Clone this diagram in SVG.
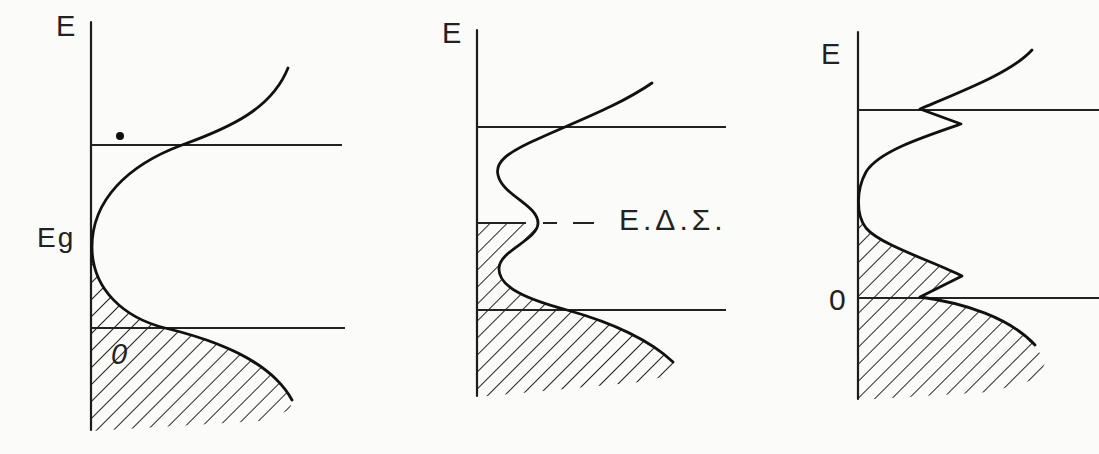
<svg xmlns="http://www.w3.org/2000/svg" width="1099" height="454" viewBox="0 0 1099 454">
<style>
.ax{stroke:#1c1c1c;stroke-width:2.2;fill:none;stroke-linecap:round}
.ln{stroke:#222;stroke-width:2;fill:none}
.cv{stroke:#111;stroke-width:2.8;fill:none;stroke-linejoin:round;stroke-linecap:round}
.tx{font-family:"Liberation Sans","DejaVu Sans",sans-serif;fill:#222}
.ht{fill:url(#hatch);stroke:none}
</style>
<defs>
<pattern id="hatch" patternUnits="userSpaceOnUse" width="12" height="12" patternTransform="rotate(45)">
<line x1="0" y1="0" x2="0" y2="12" stroke="#1a1a1a" stroke-width="1.9"/>
</pattern>
</defs>
<rect width="1099" height="454" fill="#fbfbf9"/>

<g id="panel1">
<path class="ht" d="M91,247 L92,247 C92,290 125,318 165,328 C215,340 270,360 292,400 L290,410 L260,421 L91,431 Z"/>
<line class="ax" x1="91" y1="22" x2="91" y2="430"/>
<line class="ln" x1="91" y1="145" x2="342" y2="145"/>
<line class="ln" x1="91" y1="328" x2="345" y2="328"/>
<path class="cv" d="M288,68 C272,108 232,127 182,145 C128,165 92,200 92,247 C92,290 125,318 165,328 C215,340 270,360 292,400"/>
<circle cx="120" cy="136" r="4" fill="#111"/>
<text class="tx" x="56" y="36" font-size="29">E</text>
<text class="tx" x="37" y="247" font-size="28" letter-spacing="2">Eg</text>
<text class="tx" x="111" y="364" font-size="29" font-style="italic">0</text>
</g>

<g id="panel2">
<path class="ht" d="M477,223 L538,223 C538,240 500,250 499,268 C498,288 530,300 567,310 C610,322 650,340 673,362 L676,374 L640,382 L477,397 Z"/>
<line class="ax" x1="477" y1="30" x2="477" y2="396"/>
<line class="ln" x1="477" y1="127" x2="726" y2="127"/>
<line class="ln" x1="477" y1="310" x2="726" y2="310"/>
<line class="ln" x1="477" y1="223" x2="526" y2="223"/>
<line class="ln" x1="543" y1="223" x2="557" y2="223"/>
<line class="ln" x1="573" y1="223" x2="594" y2="223"/>
<path class="cv" d="M652,83 C620,105 580,120 540,138 C505,153 495,163 498,175 C502,195 538,205 538,223 C538,240 500,250 499,268 C498,288 530,300 567,310 C610,322 650,340 673,362"/>
<text class="tx" x="442" y="43" font-size="29">E</text>
<text class="tx" x="619" y="230" font-size="30" letter-spacing="4">Ε.Δ.Σ.</text>
</g>

<g id="panel3">
<path class="ht" d="M858,190 L859,190 C857,205 858,220 866,228 C880,245 935,262 962,276 L920,297 C965,303 1010,318 1035,345 L1045,362 L1040,378 L990,392 L858,400 Z"/>
<line class="ax" x1="858" y1="32" x2="858" y2="399"/>
<line class="ln" x1="858" y1="110" x2="1099" y2="110"/>
<line class="ln" x1="858" y1="298" x2="1099" y2="298"/>
<path class="cv" d="M1032,50 C1012,72 965,90 920,109 L961,124 C920,138 878,152 866,172 C856,190 856,215 866,228 C880,245 935,262 962,276 L920,297 C965,303 1010,318 1035,345"/>
<text class="tx" x="821" y="64" font-size="29">E</text>
<text class="tx" x="829" y="310" font-size="30">0</text>
</g>
</svg>
